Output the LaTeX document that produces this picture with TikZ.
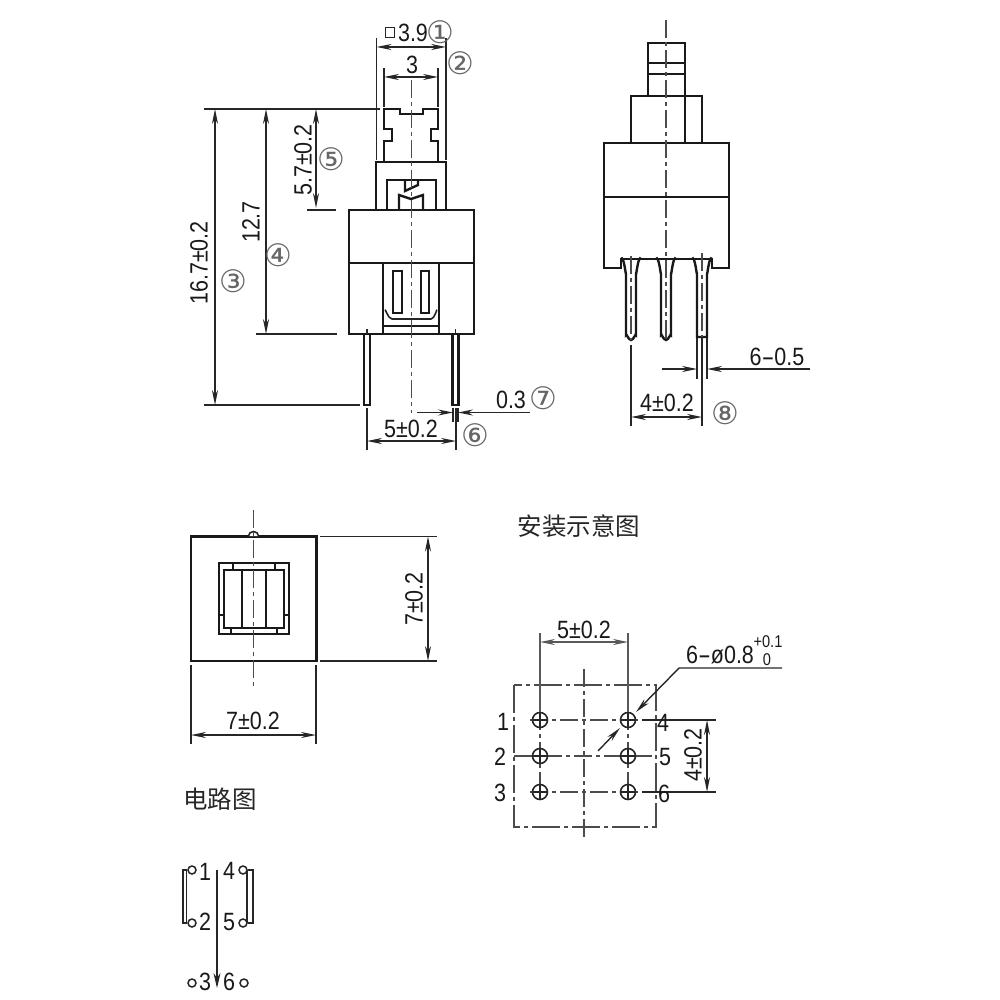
\documentclass[tikz,border=0pt]{standalone}
\usepackage{fontspec}
\usepackage{tikz}
\usetikzlibrary{arrows.meta}
\setmainfont[FakeStretch=0.86]{Liberation Sans}
\newfontfamily\circfont{DejaVu Sans}
\newfontfamily\cjkfont{Noto Sans CJK SC}
\newcommand{\longdash}{\scalebox{1.8}[1]{-}}
\begin{document}
\begin{tikzpicture}[
        x=1pt,y=-1pt,
        part/.style={line width=2.4pt,black!90},
        fine/.style={line width=1.6pt,black!85},
        axis/.style={line width=1.2pt,black!70,dash pattern=on 18pt off 4pt on 4pt off 4pt},
        dimline/.style={line width=1.4pt,black!85,{Stealth[length=15pt,width=6pt]}-{Stealth[length=15pt,width=6pt]}},
        tipline/.style={line width=1.4pt,black!85,-{Stealth[length=15pt,width=6pt]}},
        sizelabel/.style={font=\fontsize{25}{25}\selectfont,inner sep=0pt,text=black!90},
        pinlabel/.style={font=\fontsize{25}{25}\selectfont,inner sep=0pt,text=black!90},
        circled/.style={font=\circfont\fontsize{31}{31}\selectfont,inner sep=0pt,text=black!60},
        heading/.style={font=\cjkfont\fontsize{24.5}{24.5}\selectfont,inner sep=0pt,text=black!85},
        limits/.style={font=\fontsize{17}{17}\selectfont,inner sep=0pt,text=black!90}
    ]
        \useasboundingbox (0,0) rectangle (1000,1000);

        % Front view: button and housing
        \draw[part] (384,162) -- (384,141) -- (392,141) -- (392,129) -- (384,129) -- (384,109)
            -- (400,109) -- (400,114) -- (423,114) -- (423,109) -- (438,109) -- (438,129)
            -- (431,129) -- (431,141) -- (438,141) -- (438,162);
        \draw[part] (376,210) rectangle (446,162);
        \draw[part] (387,210) -- (387,180) -- (436,180) -- (436,210);
        \draw[part] (399,210) -- (399,195) -- (411,199) -- (423,195) -- (423,210);
        \draw[part] (405,180) -- (405,191) -- (418,185) -- (418,180);
        \draw[part] (349,210) rectangle (474,334);
        \draw[part] (349,263) -- (474,263);
        \draw[part] (383,334) -- (383,263);
        \draw[part] (439,334) -- (439,263);
        \draw[part] (383,326) -- (439,326);
        \draw[fine] (385,311) to[out=90,in=180] (392,319) -- (431,319) to[out=0,in=90] (437,311);
        \draw[part] (393,271) rectangle (402,313);
        \draw[part] (421,271) rectangle (429,313);
        % Front view: pins
        \foreach \px in {367,455.5}
            \draw[part] (\px-3,334) -- (\px-3,405) -- (\px+3,405) -- (\px+3,334);
        \draw[axis] (411.5,80) -- (411.5,413);
        \draw[line width=0.9pt,white,dash pattern=on 14pt off 3pt on 3pt off 3pt] (367,338) -- (367,403);
        \draw[line width=0.9pt,white,dash pattern=on 14pt off 3pt on 3pt off 3pt] (455.5,338) -- (455.5,403);
        \draw[fine] (367,329) -- (367,334);
        \draw[fine] (455.5,329) -- (455.5,334);

        % Front view: dimensions
        \draw[fine] (376.5,38) -- (376.5,160);
        \draw[fine] (446,38) -- (446,160);
        \draw[dimline] (376.5,47) -- (446,47);
        \draw[fine] (384,68) -- (384,107);
        \draw[fine] (438,68) -- (438,107);
        \draw[dimline] (384,77) -- (438,77);
        \draw[fine] (204,109) -- (380,109);
        \draw[fine] (204,405) -- (360,405);
        \draw[fine] (256,334) -- (337,334);
        \draw[fine] (307,210) -- (336,210);
        \draw[dimline] (215,109) -- (215,405);
        \draw[dimline] (266,109) -- (266,334);
        \draw[dimline] (316,109) -- (316,208);
        \draw[fine] (367,408) -- (367,450);
        \draw[fine] (456,408) -- (456,450);
        \draw[dimline] (367,441) -- (456,441);
        \draw[fine] (453,408) -- (453,422);
        \draw[fine] (458,408) -- (458,422);
        \draw[tipline] (417,412.5) -- (453,412.5);
        \draw[tipline] (530,412.5) -- (458,412.5);
        \draw[line width=1.5pt,black!85] (385.5,27.5) rectangle (394.5,37.5);

        \node[sizelabel] (wcap) at (413,33) {3.9};
        \node[sizelabel] (wtop) at (412,65) {3};
        \node[sizelabel,rotate=90] (htotal) at (199,263) {16.7±0.2};
        \node[sizelabel,rotate=90] (hbody) at (251,222) {12.7};
        \node[sizelabel,rotate=90] (htop) at (303,160) {5.7±0.2};
        \node[sizelabel] (wpins) at (411,429) {5±0.2};
        \node[sizelabel] (wpin) at (511,400) {0.3};
        \node[circled] (c1) at (440,32) {①};
        \node[circled] (c2) at (460,63) {②};
        \node[circled] (c3) at (233,281) {③};
        \node[circled] (c4) at (278,255) {④};
        \node[circled] (c5) at (331,159) {⑤};
        \node[circled] (c6) at (475,435) {⑥};
        \node[circled] (c7) at (543,398) {⑦};

        % Side view
        \draw[part] (648,96) -- (648,43) -- (685,43) -- (685,143);
        \draw[part] (648,63) -- (685,63);
        \draw[part] (648,74) -- (685,74);
        \draw[part] (631,143) -- (631,96) -- (702,96) -- (702,143);
        \draw[part] (604,143) rectangle (729,197);
        \draw[part] (604,197) -- (604,268) -- (621,268) -- (621,259) -- (712,259) -- (712,268) -- (729,268) -- (729,197);
        % Side view: pins
        \foreach \px in {631,666}
            \draw[part] (\px-10,259) to[out=60,in=-90] (\px-5,273) -- (\px-5,335) to[out=90,in=180] (\px,340)
                to[out=0,in=90] (\px+5,335) -- (\px+5,273) to[out=-90,in=120] (\px+10,259);
        \draw[part] (692,259) to[out=60,in=-90] (697,273) -- (697,337) -- (707,337) -- (707,273) to[out=-90,in=120] (712,259);
        \draw[axis] (666,20) -- (666,340);
        \draw[axis] (631,256) -- (631,340);
        \draw[axis] (702,253) -- (702,337);

        % Side view: dimensions
        \draw[fine] (697,338) -- (697,379);
        \draw[fine] (707,338) -- (707,379);
        \draw[fine] (631,345) -- (631,426);
        \draw[fine] (702,338) -- (702,426);
        \draw[tipline] (662,369) -- (697,369);
        \draw[tipline] (810,369) -- (707,369);
        \draw[dimline] (631,417) -- (702,417);

        \node[sizelabel] (pinw) at (777,357) {6\longdash0.5};
        \node[sizelabel] (pinp) at (667,403) {4±0.2};
        \node[circled] (c8) at (725,413) {⑧};

        % Top view
        \draw[part] (191,536.5) rectangle (316.5,661);
        \draw[fine,fill=white] (248.5,536) arc (180:360:5 and 4.5);
        \draw[part] (219,563) rectangle (289,634);
        \draw[part] (224,570) rectangle (284,628);
        \draw[part] (242,570) -- (242,628);
        \draw[part] (266,570) -- (266,628);
        \draw[part] (219,615) -- (224,615);
        \draw[part] (284,615) -- (289,615);
        \draw[part] (233,563) -- (233,570);
        \draw[part] (275,563) -- (275,570);
        \draw[part] (231,628) -- (231,634);
        \draw[part] (277,628) -- (277,634);
        \draw[axis] (253.5,510) -- (253.5,687);

        % Top view: dimensions
        \draw[fine] (320,536.5) -- (437,536.5);
        \draw[fine] (320,661) -- (437,661);
        \draw[dimline] (428,536.5) -- (428,661);
        \draw[fine] (191,665) -- (191,744);
        \draw[fine] (316,665) -- (316,744);
        \draw[dimline] (191,735) -- (316,735);

        \node[sizelabel,rotate=90] (topd) at (414,599) {7±0.2};
        \node[sizelabel] (topw) at (253,721) {7±0.2};

        % Mounting holes
        \node[heading] (mount) at (579,526) {安装示意图};
        \draw[axis,dash pattern=on 28pt off 4pt on 4pt off 4pt] (514,685) rectangle (656,827);
        \draw[axis] (584,669) -- (584,840);
        \draw[axis] (530,720) -- (640,720);
        \draw[axis] (514,756) -- (656,756);
        \draw[axis] (530,792) -- (640,792);
        \draw[axis] (540,712) -- (540,800);
        \draw[axis] (628,712) -- (628,800);
        \foreach \hx in {540,628}
            \foreach \hy in {720,756,792}
                \draw[fine,fill=white] (\hx,\hy) circle (7.5)
                    (\hx-7.5,\hy) -- (\hx+7.5,\hy) (\hx,\hy-7.5) -- (\hx,\hy+7.5);

        % Mounting holes: dimensions
        \draw[fine,black!65] (540,633) -- (540,712);
        \draw[fine,black!65] (628,633) -- (628,712);
        \draw[dimline,black!65] (540,642) -- (628,642);
        \draw[fine] (642,720) -- (716,720);
        \draw[fine] (642,792) -- (716,792);
        \draw[dimline] (707,720) -- (707,792);
        \draw[tipline] (782,668) -- (679,668) -- (636,712);
        \draw[tipline] (598,751) -- (620,728);

        \node[sizelabel] (wholes) at (584,630) {5±0.2};
        \node[sizelabel,rotate=90] (hholes) at (693,755) {4±0.2};
        \node[sizelabel] (dhole) at (720,655) {6\longdash ø0.8};
        \node[limits] (dplus) at (768,642) {+0.1};
        \node[limits] (dzero) at (767,660) {0};
        \node[pinlabel] (h1) at (503,722) {1};
        \node[pinlabel] (h2) at (500,757) {2};
        \node[pinlabel] (h3) at (500,793) {3};
        \node[pinlabel] (h4) at (663,723) {4};
        \node[pinlabel] (h5) at (665,757) {5};
        \node[pinlabel] (h6) at (664,794) {6};

        % Circuit
        \node[heading] (circuit) at (220,799) {电路图};
        \foreach \cname/\cx/\cy in {a/192/870,b/192/923,c/243/870,d/243/923,e/192/983,f/244/983}
            \node[draw,circle,line width=1.5pt,black!85,minimum size=8pt,inner sep=0pt] (\cname) at (\cx,\cy) {};
        \draw[fine] (a) -| (183,923) -- (b);
        \draw[fine] (186.5,870) -- (186.5,923);
        \draw[fine] (c) -| (253,923) -- (d);
        \draw[fine] (247,870) -- (247,923);
        \draw[line width=1.5pt,black!85,-{Stealth[length=15pt,width=7pt]}] (217,870) -- (217,988);
        \node[pinlabel] (s1) at (205,872) {1};
        \node[pinlabel] (s4) at (229,871) {4};
        \node[pinlabel] (s2) at (205,922) {2};
        \node[pinlabel] (s5) at (229,922) {5};
        \node[pinlabel] (s3) at (205,982) {3};
        \node[pinlabel] (s6) at (229,982) {6};
\end{tikzpicture}
\end{document}
